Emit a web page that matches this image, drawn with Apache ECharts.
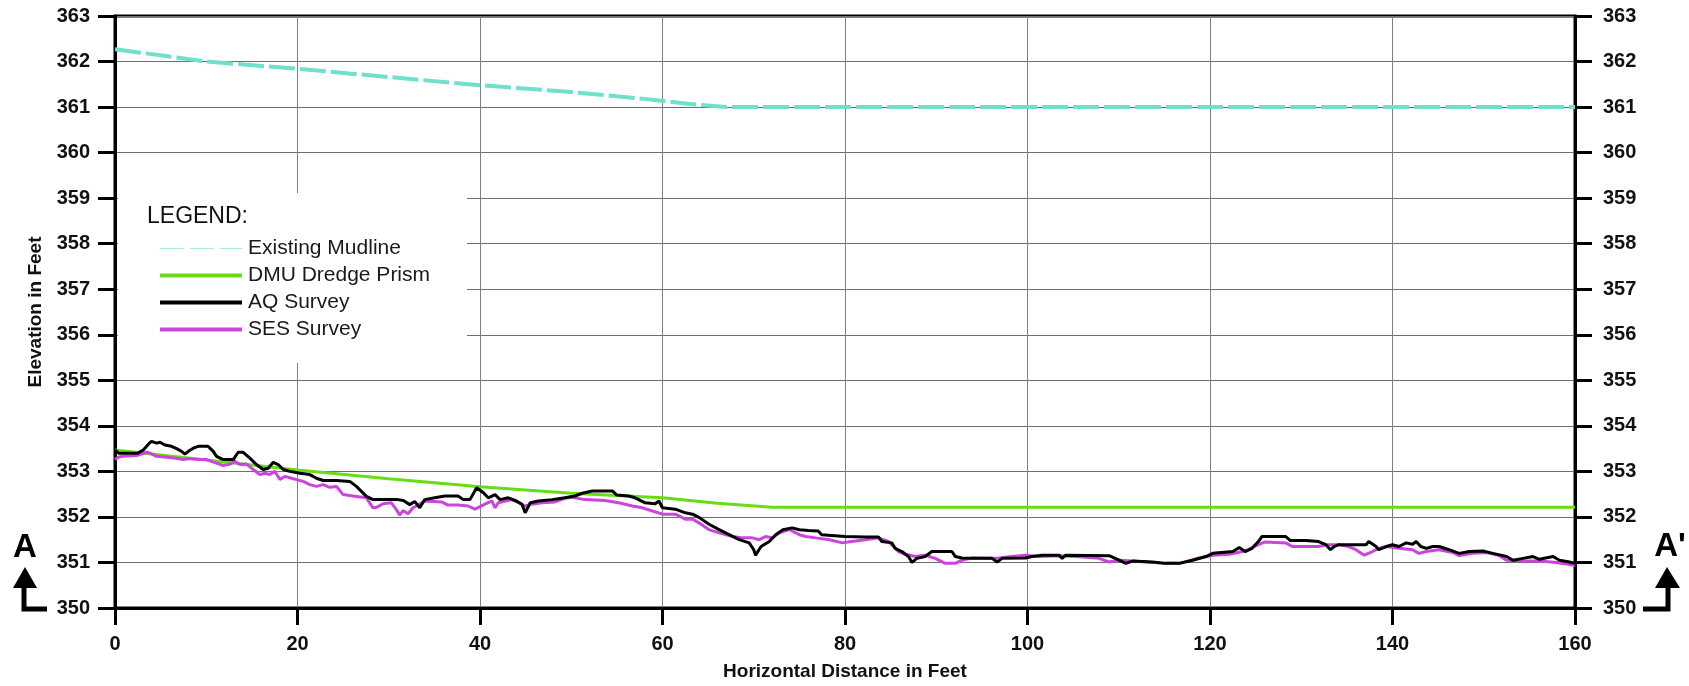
<!DOCTYPE html>
<html>
<head>
<meta charset="utf-8">
<title>Section A - A'</title>
<script src="https://cdn.jsdelivr.net/npm/echarts/dist/echarts.min.js"></script>
<style>
html, body { margin: 0; padding: 0; background: #fff; }
.echarts { width: 1689px; height: 686px; }
</style>
</head>
<body>
<div id="myChart" class="echarts"></div>
<script>
// horizontal distance (ft) and elevation (ft) for each profile
var mudDist = [0, 10, 20, 30, 40, 50, 58, 63, 67, 160];
var mudElev = [362.27, 362.0, 361.84, 361.66, 361.48, 361.33, 361.18, 361.07, 361.0, 361.0];

var prismDist = [0, 10, 20, 30, 40, 50, 60, 66, 72, 160];
var prismElev = [353.47, 353.25, 353.03, 352.84, 352.66, 352.52, 352.42, 352.3, 352.21, 352.21];

var aqDist = [0, 0.4, 1.0, 2.5, 3.1, 3.76, 4.0, 4.56, 4.93, 5.47, 6.2, 6.75, 7.3, 7.66, 8.03, 8.58, 9.12, 10.2, 10.77, 11.13,
  11.86, 12.96, 13.5, 14.05, 14.78, 15.5, 16.24, 16.79, 17.34, 17.88, 18.43, 19.16, 20.26, 21.35, 22.08, 22.81, 24.27, 25.73,
  26.46, 27.55, 28.28, 31.0, 31.6, 32.3, 32.85, 33.4, 33.94, 35.05, 36.15, 37.6, 38.17, 38.9, 39.63, 40.37, 40.9, 41.65, 42.2,
  43.1, 44.0, 44.6, 44.95, 45.5, 46.4, 47.9, 49.3, 50.4, 51.2, 52.3, 54.5, 55.0, 56.3, 57.0, 58.1, 59.2, 59.6, 60.0, 61.4,
  62.5, 63.3, 64.0, 65.1, 66.2, 67.3, 68.4, 69.5, 70.0, 70.2, 70.8, 71.7, 72.4, 73.2, 74.2, 75.0, 76.0, 77.07, 77.44, 80.0,
  82.2, 83.66, 84.03, 85.13, 85.49, 86.23, 86.96, 87.33, 87.88, 88.79, 89.52, 91.72, 92.09, 92.82, 93.92, 96.12, 96.67,
  97.22, 99.78, 100.51, 101.61, 103.44, 103.8, 104.18, 108.94, 110.04, 110.77, 111.5, 113.7, 115.16, 116.63, 118.1, 119.56,
  120.3, 122.5, 123.2, 123.85, 124.6, 125.3, 125.7, 126.8, 128.3, 128.8, 130.5, 131.9, 132.7, 133.2, 133.6, 134.1, 137.1,
  137.4, 138.2, 138.5, 139.3, 140.0, 140.7, 141.5, 142.2, 142.6, 143.1, 143.7, 144.4, 145.1, 146.2, 147.3, 148.4, 149.9,
  151.0, 152.5, 153.2, 154.3, 155.4, 156.1, 157.6, 158.3, 159.4, 160];
var aqElev = [353.47, 353.4, 353.4, 353.4, 353.47, 353.62, 353.66, 353.62, 353.64, 353.58, 353.55, 353.5, 353.44, 353.38, 353.44,
  353.51, 353.55, 353.55, 353.44, 353.33, 353.26, 353.26, 353.42, 353.42, 353.29, 353.15, 353.04, 353.07, 353.2, 353.15,
  353.04, 353.0, 352.96, 352.93, 352.85, 352.8, 352.8, 352.78, 352.67, 352.45, 352.38, 352.38, 352.36, 352.27, 352.34,
  352.2, 352.38, 352.42, 352.46, 352.46, 352.38, 352.38, 352.64, 352.53, 352.42, 352.49, 352.38, 352.42, 352.35, 352.28,
  352.09, 352.31, 352.35, 352.38, 352.42, 352.46, 352.52, 352.57, 352.57, 352.48, 352.46, 352.42, 352.31, 352.29, 352.35,
  352.2, 352.17, 352.09, 352.06, 351.99, 351.84, 351.72, 351.61, 351.5, 351.43, 351.28, 351.16, 351.35, 351.46, 351.61,
  351.72, 351.76, 351.72, 351.7, 351.69, 351.61, 351.57, 351.56, 351.56, 351.46, 351.43, 351.31, 351.24, 351.13, 351.0,
  351.09, 351.13, 351.24, 351.24, 351.13, 351.1, 351.09, 351.09, 351.01, 351.09, 351.1, 351.13, 351.16, 351.16, 351.09,
  351.16, 351.15, 351.05, 350.98, 351.03, 351.01, 350.98, 350.98, 351.05, 351.13, 351.2, 351.24, 351.33, 351.24, 351.31,
  351.46, 351.57, 351.57, 351.57, 351.48, 351.48, 351.46, 351.39, 351.28, 351.35, 351.39, 351.39, 351.46, 351.35, 351.28,
  351.35, 351.39, 351.35, 351.43, 351.4, 351.46, 351.35, 351.31, 351.35, 351.35, 351.28, 351.2, 351.24, 351.25, 351.2,
  351.13, 351.05, 351.09, 351.13, 351.07, 351.13, 351.05, 351.01, 350.98];

var sesDist = [0, 0.36, 0.73, 2.37, 3.47, 3.83, 4.56, 5.66, 6.75, 7.48, 8.21, 9.3, 10.04, 11.13, 11.86, 12.6, 13.14, 13.69,
  14.42, 15.15, 15.88, 16.42, 16.97, 17.52, 18.07, 18.61, 19.34, 19.89, 20.62, 21.35, 22.08, 22.81, 23.54, 24.27, 25.0,
  26.46, 27.55, 28.28, 28.65, 29.38, 30.29, 30.84, 31.2, 31.57, 32.12, 32.66, 33.96, 35.8, 36.5, 37.6, 38.7, 39.45, 40.55,
  41.3, 41.65, 42.0, 43.5, 44.95, 45.7, 46.8, 48.2, 49.3, 50.07, 51.5, 53.7, 55.2, 56.7, 57.8, 58.9, 60.0, 61.4, 62.5, 63.3,
  64.0, 65.1, 66.2, 67.7, 68.8, 69.85, 70.6, 71.3, 72.05, 72.8, 73.9, 75.0, 75.7, 76.8, 78.3, 79.7, 80.73, 82.2, 83.66,
  84.76, 85.86, 86.59, 87.69, 88.79, 89.89, 90.99, 92.09, 92.82, 93.92, 95.38, 96.85, 98.32, 99.78, 101.25, 103.44,
  105.27, 107.84, 108.94, 110.04, 111.5, 112.97, 115.16, 116.63, 118.83, 120.3, 122.1, 123.6, 124.2, 125.3, 126.05, 128.3,
  129.0, 131.9, 132.7, 134.1, 135.2, 136.0, 136.9, 137.8, 138.5, 139.3, 140.7, 142.2, 142.9, 143.7, 145.1, 146.6, 147.3,
  148.8, 150.3, 151.7, 152.5, 154.3, 156.1, 157.98, 160];
var sesElev = [353.26, 353.31, 353.33, 353.35, 353.42, 353.4, 353.33, 353.31, 353.29, 353.26, 353.28, 353.26, 353.26,
  353.18, 353.13, 353.16, 353.22, 353.15, 353.16, 353.04, 352.93, 352.96, 352.93, 353.0, 352.82, 352.89, 352.85, 352.82,
  352.78, 352.71, 352.67, 352.71, 352.65, 352.67, 352.49, 352.45, 352.42, 352.2, 352.21, 352.29, 352.31, 352.16, 352.04,
  352.14, 352.07, 352.2, 352.35, 352.33, 352.26, 352.26, 352.24, 352.17, 352.28, 352.35, 352.2, 352.31, 352.38, 352.24,
  352.28, 352.31, 352.33, 352.41, 352.43, 352.38, 352.36, 352.31, 352.24, 352.2, 352.13, 352.06, 352.06, 351.95, 351.95,
  351.87, 351.72, 351.65, 351.57, 351.54, 351.54, 351.5, 351.57, 351.54, 351.65, 351.72, 351.61, 351.57, 351.54, 351.5,
  351.43, 351.46, 351.5, 351.54, 351.46, 351.24, 351.18, 351.13, 351.16, 351.09, 350.98, 350.98, 351.05, 351.1, 351.09,
  351.1, 351.13, 351.16, 351.13, 351.15, 351.13, 351.09, 351.01, 351.05, 351.03, 351.01, 350.98, 350.98, 351.1, 351.16,
  351.18, 351.24, 351.28, 351.39, 351.45, 351.43, 351.35, 351.35, 351.39, 351.39, 351.35, 351.28, 351.16, 351.24, 351.31,
  351.35, 351.31, 351.28, 351.2, 351.24, 351.28, 351.22, 351.15, 351.2, 351.22, 351.15, 351.05, 351.03, 351.03, 351.0,
  350.94];

var xTicks = { min: 0, max: 160, step: 20 };
var yTicks = { min: 350, max: 363, step: 1 };

function pairs(xs, ys) {
  var out = [];
  for (var i = 0; i < xs.length; i++) {
    out.push([xs[i], ys[i]]);
  }
  return out;
}

var labelFont = 'Liberation Sans, Arial, sans-serif';
var dashIcon = 'path://M0,0H24V1H0Z M30,0H54V1H30Z M60,0H82V1H60Z';

var myChart = echarts.init(document.getElementById('myChart'));
myChart.setOption({
  animation: false,
  backgroundColor: '#fff',
  grid: {
    left: 115,
    right: 114,
    top: 16,
    bottom: 75,
    show: true,
    borderColor: '#000',
    borderWidth: 3
  },
  legend: {
    orient: 'vertical',
    left: 155,
    top: 233,
    z: 20,
    itemWidth: 82,
    itemHeight: 4,
    itemGap: 6,
    selectedMode: false,
    textStyle: {
      fontFamily: labelFont,
      fontSize: 21,
      lineHeight: 21,
      color: '#1a1a1a',
      padding: [0, 0, 0, 1]
    },
    data: [
      { name: 'Existing Mudline', icon: dashIcon, itemStyle: { opacity: 0.6 } },
      { name: 'DMU Dredge Prism', icon: 'rect' },
      { name: 'AQ Survey', icon: 'rect' },
      { name: 'SES Survey', icon: 'rect' }
    ]
  },
  graphic: [
    { type: 'rect', z: 10, shape: { x: 118, y: 193, width: 349, height: 170 }, style: { fill: '#fff' } },
    { type: 'text', z: 21, x: 147, y: 217, style: { text: 'LEGEND:', font: '23px ' + labelFont, fill: '#111', verticalAlign: 'middle' } },
    // section markers A and A'
    { type: 'text', x: 25, y: 548, style: { text: 'A', font: 'bold 33px ' + labelFont, fill: '#000', align: 'center', verticalAlign: 'middle' } },
    { type: 'polygon', shape: { points: [[13, 588], [25, 567], [37, 588]] }, style: { fill: '#000' } },
    { type: 'polyline', shape: { points: [[24, 588], [24, 609], [47, 609]] }, style: { stroke: '#000', lineWidth: 5, fill: null } },
    { type: 'text', x: 1670, y: 547, style: { text: "A'", font: 'bold 33px ' + labelFont, fill: '#000', align: 'center', verticalAlign: 'middle' } },
    { type: 'polygon', shape: { points: [[1655, 588], [1667, 567], [1680, 588]] }, style: { fill: '#000' } },
    { type: 'polyline', shape: { points: [[1668, 588], [1668, 609], [1643, 609]] }, style: { stroke: '#000', lineWidth: 5, fill: null } }
  ],
  xAxis: {
    type: 'value',
    min: xTicks.min,
    max: xTicks.max,
    interval: xTicks.step,
    name: 'Horizontal Distance in Feet',
    nameLocation: 'middle',
    nameGap: 54,
    nameTextStyle: { fontFamily: labelFont, fontSize: 19, fontWeight: 'bold', color: '#111' },
    axisLine: { lineStyle: { color: '#000', width: 3 } },
    axisTick: { length: 17, lineStyle: { color: '#000', width: 3 } },
    axisLabel: { margin: 26, fontFamily: labelFont, fontSize: 20, fontWeight: 'bold', color: '#111' },
    splitLine: { lineStyle: { color: '#808080', width: 1 } }
  },
  yAxis: [
    {
      type: 'value',
      min: yTicks.min,
      max: yTicks.max,
      interval: yTicks.step,
      position: 'left',
      name: 'Elevation in Feet',
      nameLocation: 'middle',
      nameGap: 68,
      nameTextStyle: { fontFamily: labelFont, fontSize: 19, fontWeight: 'bold', color: '#111' },
      axisLine: { show: true, lineStyle: { color: '#000', width: 3 } },
      axisTick: { show: true, length: 17, lineStyle: { color: '#000', width: 3 } },
      axisLabel: { margin: 25, fontFamily: labelFont, fontSize: 20, fontWeight: 'bold', color: '#111' },
      splitLine: { lineStyle: { color: '#6e6e6e', width: 1 } }
    },
    {
      type: 'value',
      min: yTicks.min,
      max: yTicks.max,
      interval: yTicks.step,
      position: 'right',
      axisLine: { show: true, lineStyle: { color: '#000', width: 3 } },
      axisTick: { show: true, length: 17, lineStyle: { color: '#000', width: 3 } },
      axisLabel: { margin: 28, fontFamily: labelFont, fontSize: 20, fontWeight: 'bold', color: '#111' },
      splitLine: { show: false }
    }
  ],
  series: [
    {
      name: 'Existing Mudline',
      type: 'line',
      symbol: 'none',
      color: '#6fe0c9',
      lineStyle: { color: '#6fe0c9', width: 4, type: [26, 5] },
      data: pairs(mudDist, mudElev)
    },
    {
      name: 'DMU Dredge Prism',
      type: 'line',
      symbol: 'none',
      color: '#66dd14',
      lineStyle: { color: '#66dd14', width: 3 },
      data: pairs(prismDist, prismElev)
    },
    {
      name: 'SES Survey',
      type: 'line',
      symbol: 'none',
      color: '#cc44dd',
      lineStyle: { color: '#cc44dd', width: 3 },
      data: pairs(sesDist, sesElev)
    },
    {
      name: 'AQ Survey',
      type: 'line',
      symbol: 'none',
      color: '#000',
      lineStyle: { color: '#000', width: 3 },
      data: pairs(aqDist, aqElev)
    }
  ]
});
</script>
</body>
</html>
